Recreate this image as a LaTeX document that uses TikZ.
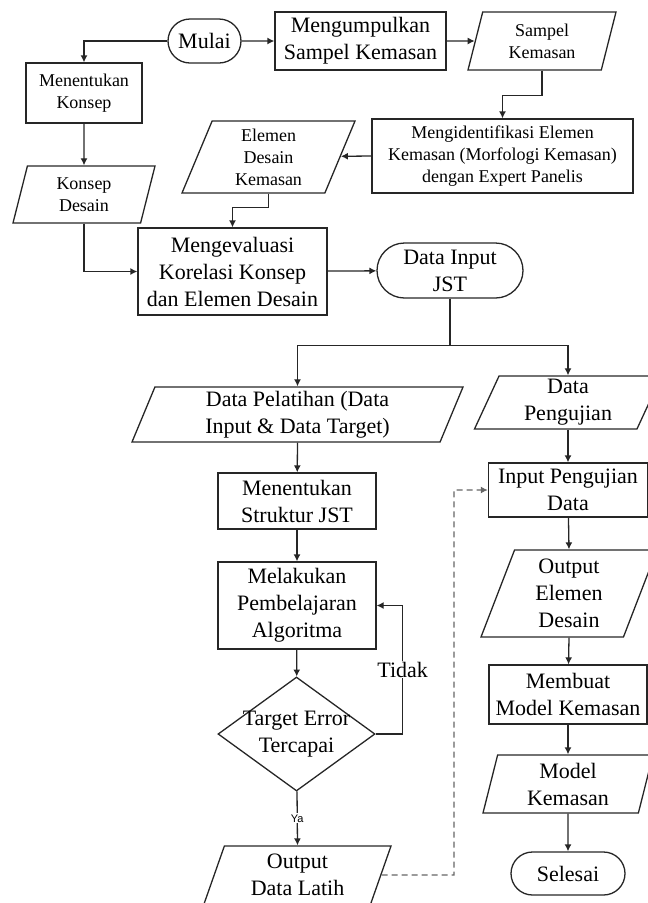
\documentclass[tikz,border=0pt]{standalone}
\usepackage{fontspec}
\setmainfont{Liberation Serif}
\newfontfamily\yafont{Liberation Sans}
\usepackage{tikz}
\usetikzlibrary{shapes.geometric,shapes.misc,arrows.meta}

\tikzset{
  garis/.style={draw=black!85,line width=1.3pt},
  besar/.style={font=\fontsize{22}{27}\selectfont},
  kecil/.style={font=\fontsize{18}{22}\selectfont},
  proses/.style={garis,rectangle,align=center,inner sep=0pt,besar},
  terminal/.style={garis,rounded rectangle,align=center,inner sep=0pt,besar},
  dataio/.style={garis,trapezium,trapezium left angle=64,trapezium right angle=116,
    trapezium stretches body,align=center,inner sep=0pt,besar},
  keputusan/.style={garis,diamond,inner sep=0pt},
  panah/.style={garis,-{Latex[length=7pt,width=7pt]}},
  putus/.style={draw=black!60,line width=1.4pt,dash pattern=on 6pt off 4pt,-{Latex[length=7pt,width=7pt]}}
}

\begin{document}
\begin{tikzpicture}[x=1pt,y=-1pt]
\useasboundingbox (0,0) rectangle (648,903);
\node[terminal,minimum width=73pt,minimum height=44pt] (mulai) at (204.5,41) {Mulai};
\node[proses,minimum width=171pt,minimum height=58pt] (kumpul) at (360.5,41) {Mengumpulkan\\Sampel Kemasan};
\node[dataio,kecil,trapezium left angle=67,trapezium right angle=113,minimum width=148pt,minimum height=58pt] (sampel) at (542,41) {Sampel\\Kemasan};
\node[proses,kecil,minimum width=116pt,minimum height=60pt] (konsep) at (84,93) {Menentukan\\Konsep};
\node[proses,kecil,minimum width=261pt,minimum height=74pt] (identifikasi) at (502.5,156) {Mengidentifikasi Elemen\\Kemasan (Morfologi Kemasan)\\dengan Expert Panelis};
\node[dataio,kecil,trapezium left angle=62,trapezium right angle=118,minimum width=173pt,minimum height=72pt] (elemen) at (268.5,157) {Elemen\\Desain\\Kemasan};
\node[dataio,kecil,trapezium left angle=67,trapezium right angle=113,minimum width=142pt,minimum height=57pt] (kdesain) at (84,194.5) {Konsep\\Desain};
\node[proses,minimum width=189pt,minimum height=87pt] (evaluasi) at (232.5,271.5) {Mengevaluasi\\Korelasi Konsep\\dan Elemen Desain};
\node[terminal,minimum width=146pt,minimum height=55pt] (input) at (450,270.5) {Data Input\\JST};

% kiri: pelatihan
\node[dataio,minimum width=331pt,minimum height=55pt] (latih) at (297.5,414.5) {Data Pelatihan (Data\\Input \& Data Target)};
\node[proses,minimum width=158pt,minimum height=56pt] (struktur) at (297,501) {Menentukan\\Struktur JST};
\node[proses,minimum width=158pt,minimum height=87pt] (belajar) at (297,605.5) {Melakukan\\Pembelajaran\\Algoritma};
\node[keputusan,minimum width=157pt,minimum height=114pt,
  label={[besar,align=center]center:Target Error\\Tercapai}] (target) at (296.5,734) {};
\node[dataio,minimum width=187pt,minimum height=58pt] (outlatih) at (297.5,875) {Output\\Data Latih};

% kanan: pengujian
\node[dataio,trapezium left angle=62,trapezium right angle=118,minimum width=187pt,minimum height=53pt] (uji) at (568,402.5) {Data\\Pengujian};
\node[proses,minimum width=159pt,minimum height=54pt] (inuji) at (568,490) {Input Pengujian\\Data};
\node[dataio,minimum width=176pt,minimum height=87pt] (outelemen) at (569,593.5) {Output\\Elemen\\Desain};
\node[proses,minimum width=158pt,minimum height=59pt] (membuat) at (568,694.5) {Membuat\\Model Kemasan};
\node[dataio,trapezium left angle=71,trapezium right angle=109,minimum width=170pt,minimum height=58pt] (model) at (568,784) {Model\\Kemasan};
\node[terminal,minimum width=114pt,minimum height=43pt] (selesai) at (568,873.5) {Selesai};

\draw[panah] (mulai) -- (kumpul);
\draw[panah] (mulai.west) -| (konsep.north);
\draw[panah] (kumpul) -- (sampel);
\draw[panah] (sampel.center |- sampel.south) -- ++(0,25) -| (identifikasi.north);
\draw[panah] (identifikasi.west) -- (elemen);
\draw[panah] (elemen.center |- elemen.south) -- ++(0,14) -| (evaluasi.north);
\draw[panah] (konsep) -- (kdesain);
\draw[panah] (kdesain.center |- kdesain.south) |- (evaluasi.west);
\draw[panah] (evaluasi) -- (input);
\draw[garis] (input.south) -- ++(0,47) coordinate (cabang);
\draw[panah] (cabang) -| (latih.center |- latih.north);
\draw[panah] (cabang) -| (uji.center |- uji.north);

\draw[panah] (latih.center |- latih.south) -- (struktur);
\draw[panah] (struktur) -- (belajar);
\draw[panah] (belajar) -- (target);
\draw[panah] (target) -- node[midway,fill=white,inner sep=1pt,font=\yafont\fontsize{11}{12}\selectfont] {Ya} (outlatih.center |- outlatih.north);
\draw[panah] (target.east) -- ++(27,0) |- node[pos=0.25,fill=white,inner sep=1pt,besar] {Tidak} (belajar.east);

\draw[panah] (uji.center |- uji.south) -- (inuji);
\draw[panah] (inuji) -- (outelemen.center |- outelemen.north);
\draw[panah] (outelemen.center |- outelemen.south) -- (membuat);
\draw[panah] (membuat) -- (model.center |- model.north);
\draw[panah] (model.center |- model.south) -- (selesai);

\coordinate (belok) at (454,875);
\draw[putus] (outlatih) -- (belok) |- (inuji.west);
\end{tikzpicture}
\end{document}
